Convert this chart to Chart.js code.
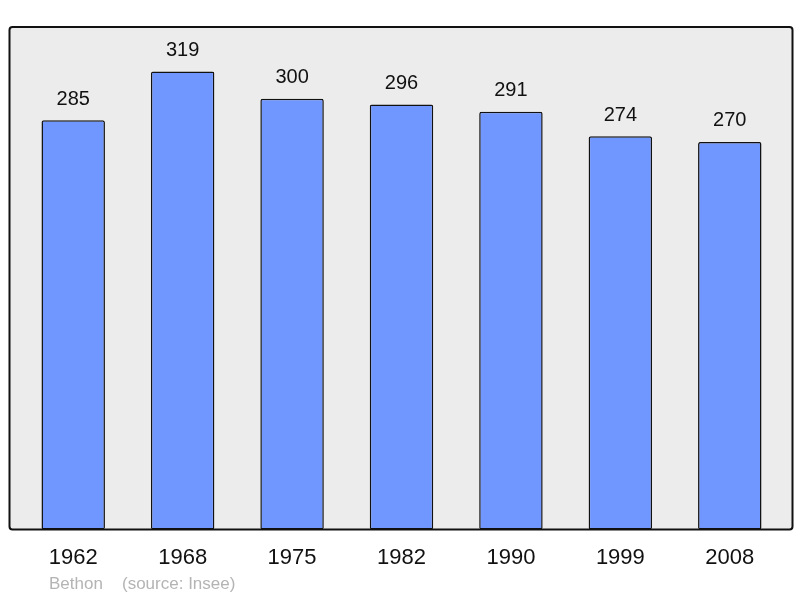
<!DOCTYPE html>
<html><head><meta charset="utf-8">
<script src="https://cdn.jsdelivr.net/npm/chart.js@4"></script>
<style>html,body{margin:0;padding:0;background:#fff}#wrap{width:800px;height:598px}</style>
</head><body><div id="wrap"><canvas id="c" width="800" height="598"></canvas></div>
<script>
const years = ['1962','1968','1975','1982','1990','1999','2008'];
const population = [285, 319, 300, 296, 291, 274, 270];
const commune = 'Bethon';
const source = '(source: Insee)';

const frame = {
  id: 'frame',
  beforeDraw(chart) {
    const {ctx, chartArea: a} = chart;
    ctx.save();
    const x = a.left - 9, y = a.top, w = a.right - a.left + 17, h = a.bottom - a.top;
    ctx.beginPath();
    ctx.roundRect(x, y, w, h, 3);
    ctx.fillStyle = '#ececec';
    ctx.fill();
    ctx.restore();
  },
  afterDatasetsDraw(chart) {
    const {ctx, chartArea: a} = chart;
    ctx.save();
    const x = a.left - 9, y = a.top, w = a.right - a.left + 17, h = a.bottom - a.top;
    ctx.beginPath();
    ctx.roundRect(x, y, w, h, 3);
    ctx.lineWidth = 2;
    ctx.strokeStyle = '#111';
    ctx.stroke();
    // value labels
    const meta = chart.getDatasetMeta(0);
    ctx.font = '20px "Liberation Sans", Arial, sans-serif';
    ctx.fillStyle = '#111';
    ctx.textAlign = 'center';
    ctx.textBaseline = 'middle';
    meta.data.forEach((bar, i) => {
      ctx.fillText(String(population[i]), bar.x, bar.y - 21);
    });
    // footer
    ctx.font = '17px "Liberation Sans", Arial, sans-serif';
    ctx.fillStyle = '#b4b4b4';
    ctx.textAlign = 'left';
    ctx.fillText(commune, 49, 584);
    ctx.fillText(source, 122, 584);
    ctx.restore();
  }
};

new Chart(document.getElementById('c'), {
  type: 'bar',
  data: {
    labels: years,
    datasets: [{
      data: population,
      backgroundColor: '#7096ff',
      borderColor: '#111',
      borderWidth: 1.5,
      borderRadius: 2,
      borderSkipped: false,
      barPercentage: 0.58,
      categoryPercentage: 1
    }]
  },
  options: {
    responsive: false,
    animation: false,
    devicePixelRatio: 1,
    layout: { padding: { left: 18.5, right: 15.5, top: 27, bottom: 12 } },
    plugins: { legend: { display: false }, tooltip: { enabled: false } },
    scales: {
      x: {
        grid: { display: false, drawTicks: false },
        border: { display: false },
        ticks: { color: '#111', font: { size: 22, family: '"Liberation Sans", Arial, sans-serif' }, padding: 15 }
      },
      y: { display: false, min: 0, max: 350 }
    }
  },
  plugins: [frame]
});
</script></body></html>
